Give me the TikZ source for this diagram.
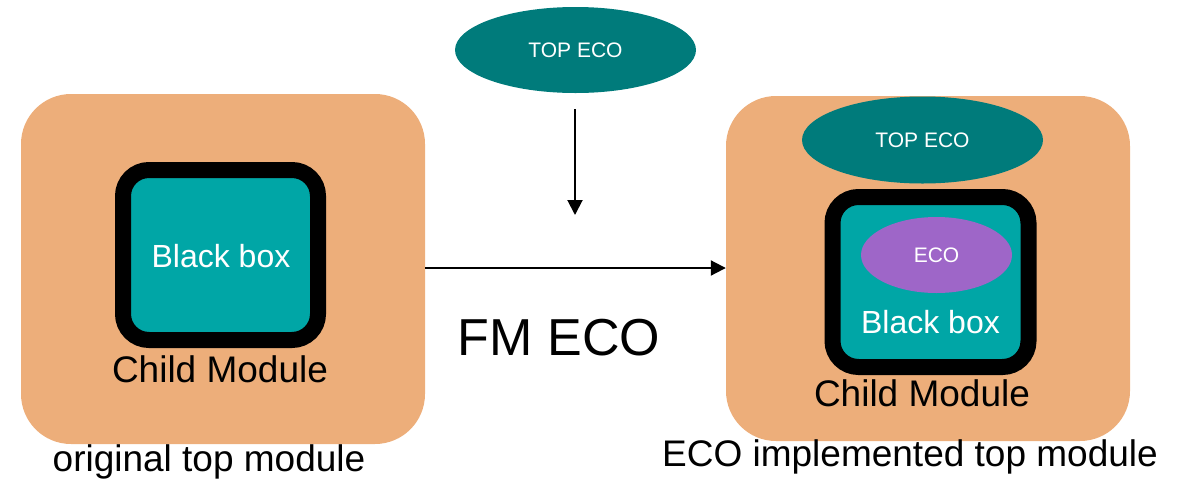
\documentclass[tikz,border=0pt]{standalone}
\usepackage{fontspec}
\setmainfont{Liberation Sans}
\usetikzlibrary{shapes.geometric,arrows.meta}
\definecolor{modorange}{RGB}{237,174,122}
\definecolor{bbteal}{RGB}{0,166,166}
\definecolor{topteal}{RGB}{0,123,123}
\definecolor{ecopurple}{RGB}{158,102,200}
\tikzset{
  topmod/.style={fill=modorange, draw=none, rounded corners=50pt, inner sep=0pt},
  childmod/.style={fill=bbteal, draw=black, line width=16pt, rounded corners=26pt, inner sep=0pt},
  ecoell/.style={ellipse, draw=none, inner sep=0pt, text=white, font=\fontsize{21}{25}\selectfont},
  lbl/.style={inner sep=0pt, font=\fontsize{37}{44}\selectfont},
  bblbl/.style={inner sep=0pt, text=white, font=\fontsize{32}{38}\selectfont},
  flow/.style={line width=2pt, -{Triangle[width=15pt,length=15pt]}}
}
\begin{document}
\begin{tikzpicture}[x=1pt,y=-1pt]
\useasboundingbox (0,0) rectangle (1189,480);

% left: original top module
\node[topmod, minimum width=404pt, minimum height=350pt] (orig) at (223,269) {};
\node[childmod, minimum width=195pt, minimum height=170pt] (bbl) at (220.5,255) {};
\node[bblbl] (bbltxt) at (221,256) {Black box};
\node[lbl] (cml) at (220,369) {Child Module};
\node[lbl] (origtxt) at (209,462) {original top module};

% top ECO fed into the flow
\node[ecoell, fill=topteal, minimum width=241pt, minimum height=86pt] (topeco) at (575.5,50) {TOP ECO};
\coordinate (vstart) at (575,109);
\coordinate (vend) at (575,215);
\draw[flow] (vstart) -- (vend);

% right: ECO implemented top module
\node[topmod, minimum width=404pt, minimum height=345pt] (impl) at (928,268.5) {};
\node[ecoell, fill=topteal, minimum width=241pt, minimum height=87pt] (topeco2) at (922.5,140) {TOP ECO};
\node[childmod, minimum width=196pt, minimum height=170pt] (bbr) at (930.5,282) {};
\node[ecoell, fill=ecopurple, minimum width=151pt, minimum height=76pt] (eco) at (936.5,255) {ECO};
\node[bblbl] (bbrtxt) at (930.5,322) {Black box};
\node[lbl] (cmr) at (922,393) {Child Module};
\node[lbl] (impltxt) at (910,457) {ECO implemented top module};

% FM ECO transformation
\draw[flow] (orig.east |- 0,268) -- (impl.west |- 0,268);
\node[inner sep=0pt, font=\fontsize{52}{62}\selectfont] (fm) at (559,338) {FM ECO};
\end{tikzpicture}
\end{document}
